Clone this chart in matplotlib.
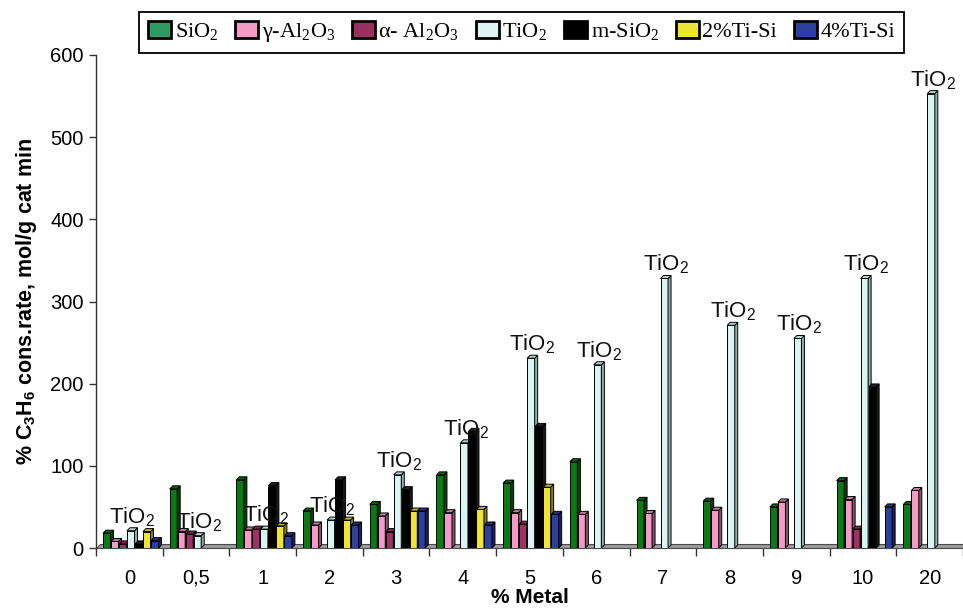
import numpy as np
import matplotlib
matplotlib.use("Agg")
import matplotlib.pyplot as plt
from matplotlib.patches import Polygon, Patch
from matplotlib.colors import to_rgb

plt.rcParams['font.family'] = ['Liberation Sans', 'DejaVu Sans']
plt.rcParams['mathtext.fontset'] = 'custom'
plt.rcParams['mathtext.rm'] = 'Liberation Serif'
plt.rcParams['mathtext.it'] = 'Liberation Serif:italic'
plt.rcParams['mathtext.sf'] = 'Liberation Sans'
plt.rcParams['mathtext.bf'] = 'Liberation Sans:bold'

nan = np.nan

# metal loading (%) on the x axis
categories = ['0', '0,5', '1', '2', '3', '4', '5', '6', '7', '8', '9', '10', '20']

# C3H6 consumption rate per support
sio2     = [18, 72, 83, 45, 53, 89, 79, 105, 58, 57, 50, 82, 53]
g_al2o3  = [8, 20, 22, 28, 39, 43, 43, 41, 42, 46, 56, 59, 70]
a_al2o3  = [5, 17, 23, nan, 20, nan, 29, nan, nan, nan, nan, 23, nan]
tio2     = [21, 15, 23, 34, 89, 128, 231, 223, 328, 271, 255, 328, 553]
m_sio2   = [5, nan, 76, 83, 71, 142, 148, nan, nan, nan, nan, 196, nan]
ti_si_2  = [20, nan, 27, 34, 45, 47, 74, nan, nan, nan, nan, nan, nan]
ti_si_4  = [9, nan, 15, 28, 45, 28, 41, nan, nan, nan, nan, 50, nan]

series_labels = [r'SiO$_2$', r'γ-Al$_2$O$_3$', r'α- Al$_2$O$_3$', r'TiO$_2$',
                 r'm-SiO$_2$', '2%Ti-Si', '4%Ti-Si']
series_values = [sio2, g_al2o3, a_al2o3, tio2, m_sio2, ti_si_2, ti_si_4]
bar_colors = ['#0a7a12', '#f49ac4', '#9c3265', '#daf4f1', '#000000', '#efe431', '#2d3fa0']
legend_colors = ['#2e9b64', '#f59ac5', '#993060', '#dcf5f2', '#000000', '#ece534', '#2c3e9e']

W, H = 963, 610
fig = plt.figure(figsize=(W / 100, H / 100), dpi=100)
ax = fig.add_axes([96 / W, 62 / H, 867 / W, 493 / H])

n = len(categories)
ax.set_xlim(-0.5, n - 0.5)
ax.set_ylim(0, 600)

bbox = ax.get_window_extent()
px_x = bbox.width / n          # pixels per category
px_y = bbox.height / 600.0     # pixels per rate unit


def shade(c, f):
    r, g, b = to_rgb(c)
    return (r * f, g * f, b * f)


# grey floor under the columns
fdx, fdy = 4 / px_x, 4 / px_y
floor = Polygon([(-0.5, 0), (n - 0.5 + 0.2, 0), (n - 0.5 + 0.2, fdy), (-0.5 + fdx, fdy)],
                closed=True, facecolor='#9c9c9c', edgecolor='#4a4a4a', lw=0.8,
                zorder=2, clip_on=False)
ax.add_patch(floor)

# pseudo-3D columns: front face + side + top
depth = 3.0
dx, dy = depth / px_x, depth / px_y
face = 7.5 / px_x
first = 7.0
step = 8.0

for k, (vals, col) in enumerate(zip(series_values, bar_colors)):
    side_col = shade(col, 0.55) if col != '#000000' else '#1a1a1a'
    top_col = shade(col, 0.8) if col != '#000000' else '#222222'
    if col == '#daf4f1':
        side_col, top_col = '#8fb1ae', '#b5d3d0'
    for i, v in enumerate(vals):
        if np.isnan(v):
            continue
        left = i - 0.5 + (first + k * step) / px_x
        ax.bar(left, v, width=face, align='edge', color=col,
               edgecolor='black', lw=0.7, zorder=3)
        ax.add_patch(Polygon([(left + face, 0), (left + face + dx, dy),
                              (left + face + dx, v + dy), (left + face, v)],
                             closed=True, facecolor=side_col, edgecolor='black',
                             lw=0.7, zorder=3))
        ax.add_patch(Polygon([(left, v), (left + face, v),
                              (left + face + dx, v + dy), (left + dx, v + dy)],
                             closed=True, facecolor=top_col, edgecolor='black',
                             lw=0.7, zorder=3))
        if k == 3:
            ax.text(left + (face + dx) / 2, v + dy, r'TiO$_\mathsf{2}$',
                    ha='center', va='bottom', fontsize=16, color='#111111',
                    zorder=5)

# axes styling
for s in ['top', 'right', 'bottom']:
    ax.spines[s].set_visible(False)
ax.spines['left'].set_color('#333333')
ax.spines['left'].set_linewidth(1.0)

ax.set_yticks(np.arange(0, 601, 100))
ax.tick_params(axis='y', direction='out', length=5, width=1, color='#333333',
               labelsize=14.5, pad=4)
ax.set_xticks(np.arange(n))
ax.set_xticklabels(categories)
ax.set_xticks(np.arange(n + 1) - 0.5, minor=True)
ax.tick_params(axis='x', which='major', length=0, labelsize=14.5, pad=15)
ax.tick_params(axis='x', which='minor', direction='out', length=6, width=1,
               color='#333333', pad=0)

ax.set_ylabel(r'% C$_\mathbf{3}$H$_\mathbf{6}$ cons.rate, mol/g cat min',
              fontsize=15.5, fontweight='bold', labelpad=8)
ax.set_xlabel('% Metal', fontsize=15, fontweight='bold', labelpad=0)

handles = [Patch(facecolor=c, edgecolor='black', linewidth=2) for c in legend_colors]
leg = fig.legend(handles, series_labels, loc='upper center',
                 bbox_to_anchor=(521.5 / W, 1 - 12 / H), ncol=7,
                 prop={'family': 'Liberation Serif', 'size': 16},
                 frameon=True, fancybox=False, framealpha=1, edgecolor='black',
                 handlelength=1.05, handleheight=0.8, handletextpad=0.15,
                 columnspacing=0.75, borderpad=0.4, borderaxespad=0)
leg.get_frame().set_linewidth(1.3)

fig.savefig('out.png', dpi=100)
